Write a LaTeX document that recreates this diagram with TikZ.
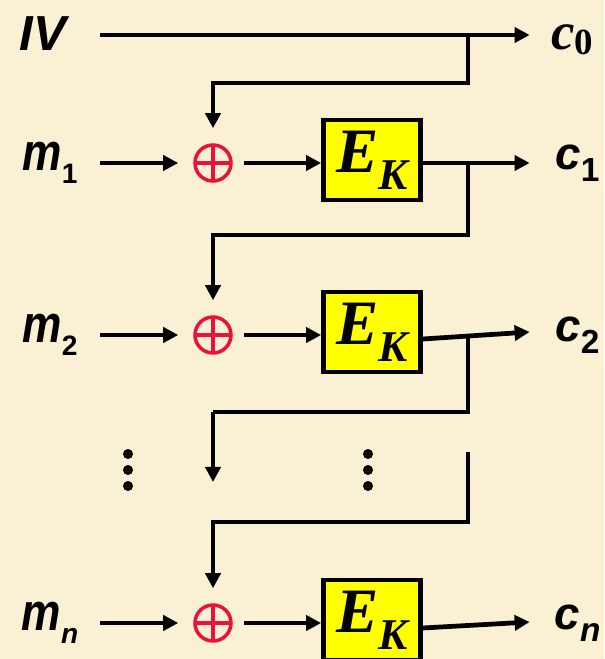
\documentclass[tikz,border=0pt]{standalone}
\usepackage{fontspec}
\setmainfont{Liberation Serif}
\setsansfont{Liberation Sans}
\usetikzlibrary{arrows.meta, calc}
\definecolor{parchment}{RGB}{250, 240, 212}
\definecolor{xorred}{RGB}{234, 18, 58}
\definecolor{boxyellow}{RGB}{255, 255, 0}

% labels in bold italic sans with a lowered subscript
\newcommand{\mlbl}[1]{{\sffamily\bfseries\itshape\fontsize{30}{30}\selectfont\scalebox{0.84}[1]{m}}\raisebox{-0.27cm}{\sffamily\bfseries\fontsize{16}{16}\selectfont #1}}
\newcommand{\clbl}[1]{{\sffamily\bfseries\itshape\fontsize{26}{26}\selectfont c}\raisebox{-0.25cm}{\sffamily\bfseries\fontsize{19}{19}\selectfont #1}}
\newcommand{\ekbox}{{\bfseries\itshape\fontsize{36}{36}\selectfont E}\raisebox{-0.34cm}{\bfseries\itshape\fontsize{25}{25}\selectfont K}}

\tikzset{
    flow/.style={line width=2.7pt, -{Triangle[length=0.3cm, width=0.3cm]}},
    wire/.style={line width=2.7pt},
    lbl/.style={inner sep=0pt, minimum width=2cm, minimum height=0.8cm},
    outlbl/.style={inner sep=0pt, minimum width=1.9cm, minimum height=0.8cm},
    xorn/.style={circle, draw=xorred, line width=2pt, minimum size=0.72cm, inner sep=0pt,
        path picture={\draw[xorred, line width=2pt]
            (path picture bounding box.north) -- (path picture bounding box.south)
            (path picture bounding box.west) -- (path picture bounding box.east);}},
    enc/.style={draw, line width=2.7pt, fill=boxyellow, minimum width=1.94cm, minimum height=1.6cm, inner sep=0pt}
}

\begin{document}
\begin{tikzpicture}
    % Background
    \fill[parchment] (0, 0) rectangle (12.08, 13.18);
    \useasboundingbox (0, 0) rectangle (12.08, 13.18);

    % Initial vector
    \node[lbl, minimum width=2.28cm] (iv) at (0.86, 12.5) {\sffamily\bfseries\itshape\fontsize{28}{28}\selectfont IV};
    \node[outlbl, minimum width=1.7cm] (c0) at (11.45, 12.38) {{\bfseries\itshape\fontsize{30}{30}\selectfont c}\raisebox{-0.1cm}{\bfseries\fontsize{21}{21}\selectfont 0}};
    \draw[flow] (iv.east |- 0, 12.48) -- (c0.west |- 0, 12.48);

    % Rows
    \foreach \r/\y/\s in {1/9.92/1, 2/6.48/2, n/0.72/{\itshape n}} {
        \node[lbl] (m\r) at (1.0, \y) {\mlbl{\s}};
        \node[xorn] (x\r) at (4.26, \y) {};
        \node[enc] (e\r) at (7.44, \y+0.06) {\ekbox};
        \node[outlbl] (c\r) at (11.55, \y) {\clbl{\s}};
        \draw[flow, shorten >=0.3cm] (m\r.east |- x\r) -- (x\r);
        \draw[flow, shorten <=0.22cm] (x\r) -- (e\r.west |- x\r);
    }
    \draw[flow] (e1.east |- x1) -- (c1.west |- x1);
    \draw[flow] ([yshift=-0.14cm]e2.east) -- ([yshift=0.06cm]c2.west);
    \draw[flow] ([yshift=-0.16cm]en.east) -- ([yshift=0.02cm]cn.west);

    % Chaining
    \coordinate (b0) at (9.36, 12.48);
    \coordinate (t0) at (9.36, 11.52);
    \coordinate (b1) at (9.36, 9.92);
    \coordinate (t1) at (9.36, 8.48);
    \coordinate (b2) at (9.36, 6.42);
    \coordinate (t2) at (9.36, 4.94);
    \coordinate (bd) at (9.36, 4.14);
    \coordinate (td) at (9.36, 2.74);
    \draw[flow, shorten >=0.3cm] (b0) -- (t0) -| (x1.north);
    \draw[flow, shorten >=0.3cm] (b1) -- (t1) -| (x2.north);
    \draw[wire] (b2) -- (t2) -- (t2 -| x2);
    \draw[flow] (t2 -| x2) -- +(0, -1.4);
    \draw[flow, shorten >=0.3cm] (bd) -- (td) -| (xn.north);

    % Ellipsis
    \foreach \x in {2.56, 7.36} {
        \foreach \y in {4.1, 3.78, 3.46} {
            \fill (\x, \y) circle (0.1);
        }
    }
\end{tikzpicture}
\end{document}
